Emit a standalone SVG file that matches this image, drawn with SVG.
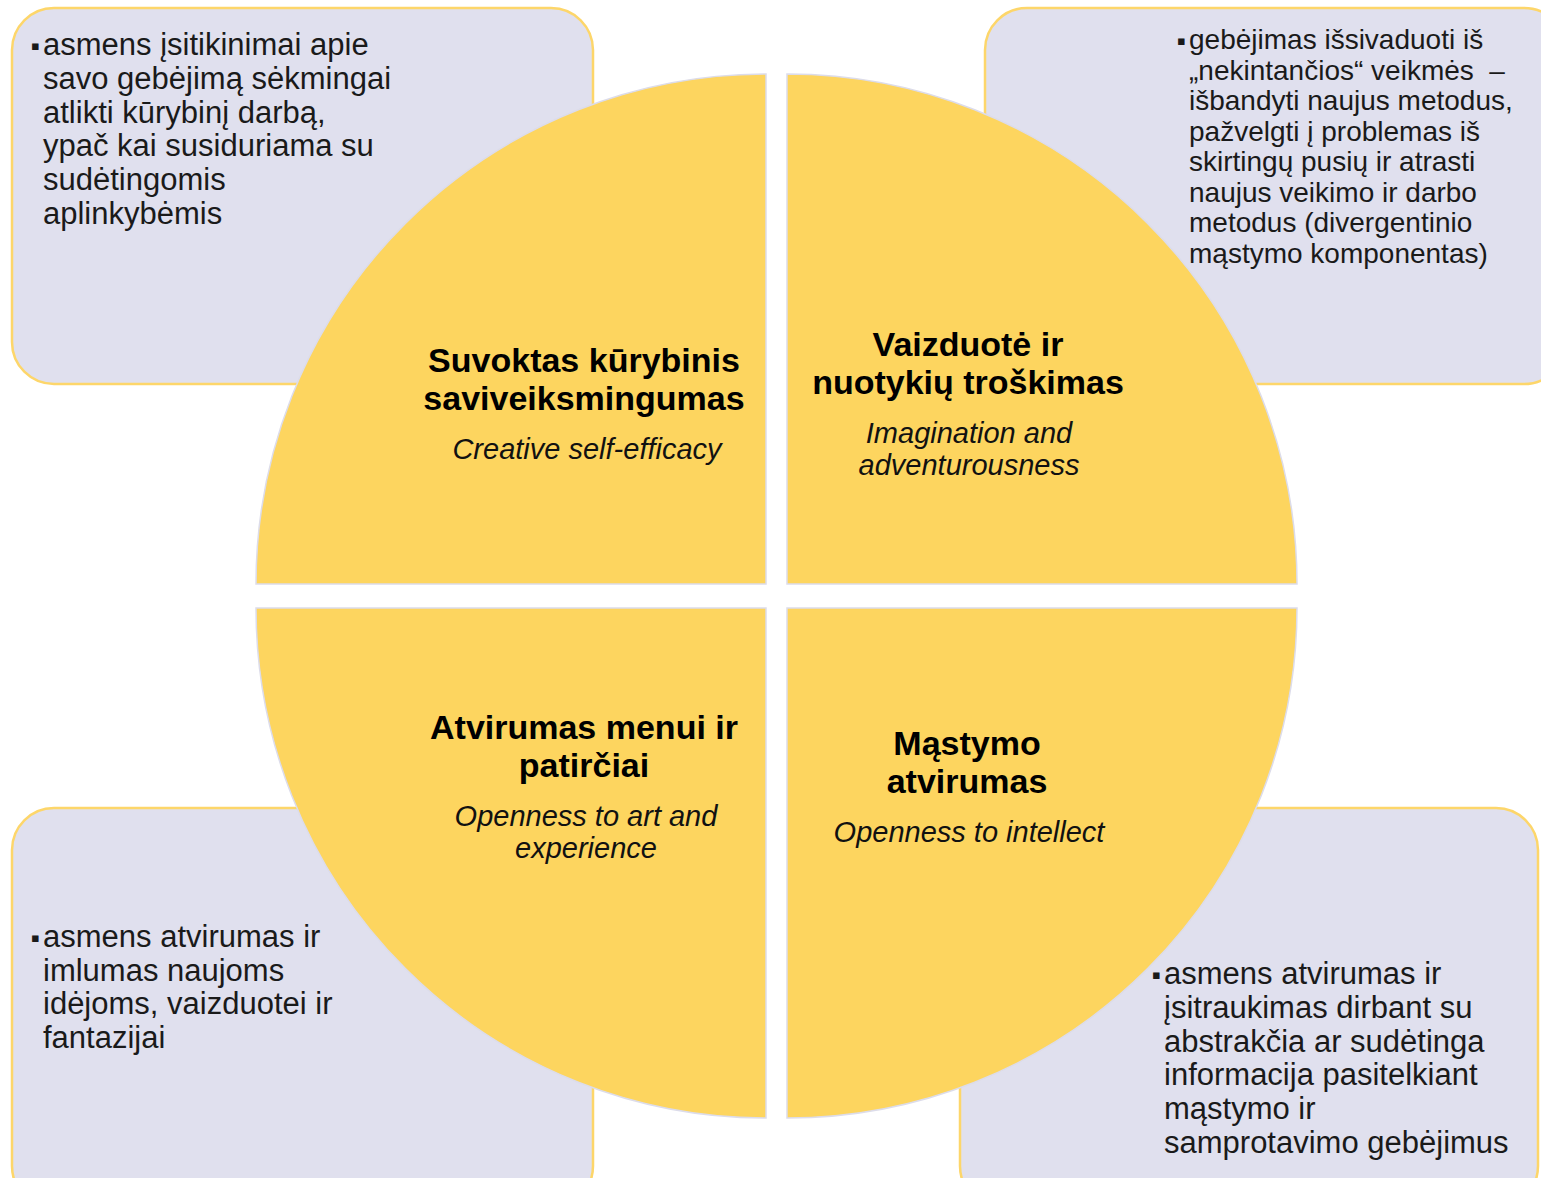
<svg xmlns="http://www.w3.org/2000/svg" width="1541" height="1178" viewBox="0 0 1541 1178">
<style>
.box{fill:#E0E0EE;stroke:#FDD66A;stroke-width:2.5}
.q{fill:#FDD55F;stroke:#DCDCEA;stroke-width:1.5}
.bt{font-family:"Liberation Sans",Arial,sans-serif;font-size:31px;fill:#1a1a1a}
.bt2{font-family:"Liberation Sans",Arial,sans-serif;font-size:28px;fill:#1a1a1a}
.bul{font-family:"DejaVu Sans",sans-serif;font-size:13px;fill:#1a1a1a}
.ti{font-family:"Liberation Sans",Arial,sans-serif;font-size:34px;font-weight:bold;fill:#000;text-anchor:middle}
.it{font-family:"Liberation Sans",Arial,sans-serif;font-size:29px;font-style:italic;fill:#111;text-anchor:middle}
</style>
<rect width="1541" height="1178" fill="#fff"/>
<g id="box-tl">
<rect class="box" x="12" y="8" width="581" height="376" rx="42"/>
<text class="bul" x="31" y="50">▪</text>
<text class="bt"><tspan x="43" y="55">asmens įsitikinimai apie</tspan><tspan x="43" y="89">savo gebėjimą sėkmingai</tspan><tspan x="43" y="123">atlikti kūrybinį darbą,</tspan><tspan x="43" y="156">ypač kai susiduriama su</tspan><tspan x="43" y="190">sudėtingomis</tspan><tspan x="43" y="224">aplinkybėmis</tspan></text>
</g>
<g id="box-tr">
<rect class="box" x="985" y="8" width="581" height="376" rx="42"/>
<text class="bul" x="1177" y="45">▪</text>
<text class="bt2"><tspan x="1189" y="49">gebėjimas išsivaduoti iš</tspan><tspan x="1189" y="80">„nekintančios“ veikmės&#160; –</tspan><tspan x="1189" y="110">išbandyti naujus metodus,</tspan><tspan x="1189" y="141">pažvelgti į problemas iš</tspan><tspan x="1189" y="171">skirtingų pusių ir atrasti</tspan><tspan x="1189" y="202">naujus veikimo ir darbo</tspan><tspan x="1189" y="232">metodus (divergentinio</tspan><tspan x="1189" y="263">mąstymo komponentas)</tspan></text>
</g>
<g id="box-bl">
<rect class="box" x="12" y="808" width="581" height="400" rx="42"/>
<text class="bul" x="31" y="942">▪</text>
<text class="bt"><tspan x="43" y="947">asmens atvirumas ir</tspan><tspan x="43" y="981">imlumas naujoms</tspan><tspan x="43" y="1014">idėjoms, vaizduotei ir</tspan><tspan x="43" y="1048">fantazijai</tspan></text>
</g>
<g id="box-br">
<rect class="box" x="960" y="808" width="578" height="400" rx="42"/>
<text class="bul" x="1152" y="979">▪</text>
<text class="bt"><tspan x="1164" y="984">asmens atvirumas ir</tspan><tspan x="1164" y="1018">įsitraukimas dirbant su</tspan><tspan x="1164" y="1052">abstrakčia ar sudėtinga</tspan><tspan x="1164" y="1085">informacija pasitelkiant</tspan><tspan x="1164" y="1119">mąstymo ir</tspan><tspan x="1164" y="1153">samprotavimo gebėjimus</tspan></text>
</g>
<g id="q-tl">
<path class="q" d="M766,584 L256,584 A510,510 0 0 1 766,74 Z"/>
<text class="ti"><tspan x="584" y="372">Suvoktas kūrybinis</tspan><tspan x="584" y="410">saviveiksmingumas</tspan></text>
<text class="it" x="587" y="459">Creative self-efficacy</text>
</g>
<g id="q-tr">
<path class="q" d="M787,584 L787,74 A510,510 0 0 1 1297,584 Z"/>
<text class="ti"><tspan x="968" y="356">Vaizduotė ir</tspan><tspan x="968" y="394">nuotykių troškimas</tspan></text>
<text class="it"><tspan x="969" y="443">Imagination and</tspan><tspan x="969" y="475">adventurousness</tspan></text>
</g>
<g id="q-bl">
<path class="q" d="M766,608 L766,1118 A510,510 0 0 1 256,608 Z"/>
<text class="ti"><tspan x="584" y="739">Atvirumas menui ir</tspan><tspan x="584" y="777">patirčiai</tspan></text>
<text class="it"><tspan x="586" y="826">Openness to art and</tspan><tspan x="586" y="858">experience</tspan></text>
</g>
<g id="q-br">
<path class="q" d="M787,608 L1297,608 A510,510 0 0 1 787,1118 Z"/>
<text class="ti"><tspan x="967" y="755">Mąstymo</tspan><tspan x="967" y="793">atvirumas</tspan></text>
<text class="it" x="969" y="842">Openness to intellect</text>
</g>
<g id="connectors"></g>
</svg>
